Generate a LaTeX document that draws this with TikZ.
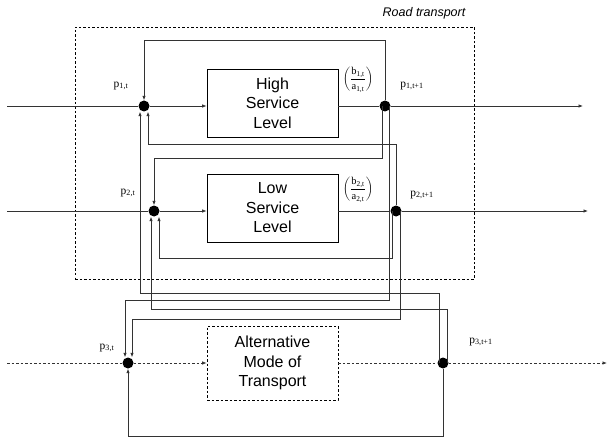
\documentclass[tikz,border=0pt]{standalone}
\usepackage{fontspec}
\setmainfont{Liberation Serif}
\newfontfamily\boxfont{Liberation Sans}
\usetikzlibrary{arrows.meta}
\begin{document}
\begin{tikzpicture}[x=1pt,y=-1pt,
  ln/.style={draw=black!80,line width=0.75pt},
  arr/.style={ln,-{Latex[length=4.5pt,width=3.5pt]}},
  dsh/.style={dash pattern=on 2.5pt off 2pt},
  dot/.style={circle,fill=black,inner sep=0pt,minimum size=11pt},
  blk/.style={draw=black,line width=0.8pt,minimum width=131pt,inner sep=0pt,
    font=\boxfont\fontsize{16}{19.5}\selectfont,align=center},
  plab/.style={font=\fontsize{11.5}{12}\selectfont,inner sep=0pt},
  frc/.style={font=\fontsize{10.5}{12}\selectfont,inner sep=0pt}]
\useasboundingbox (0,0) rectangle (609,438);
% road transport frame
\node[draw=black,line width=0.7pt,dsh,minimum width=399pt,minimum height=252pt,inner sep=0pt] (road) at (274.5,153) {};
\node[font=\boxfont\itshape\fontsize{12.5}{14}\selectfont,inner sep=0pt] (roadlab) at (424,13) {Road transport};
% blocks
\node[blk,minimum height=68pt] (hsl) at (272.5,103) {High\\Service\\Level};
\node[blk,minimum height=68pt] (lsl) at (272.5,208) {Low\\Service\\Level};
\node[blk,dsh,minimum height=74pt] (alt) at (272.5,363) {Alternative\\Mode of\\Transport};
% junctions
\node[dot] (j1) at (144,106) {};
\node[dot] (o1) at (385,106) {};
\node[dot] (j2) at (154,211) {};
\node[dot] (o2) at (396,211) {};
\node[dot] (j3) at (128,363) {};
\node[dot] (o3) at (443,363) {};
\coordinate (in1) at (7,106);
\coordinate (in2) at (7,211);
\coordinate (in3) at (7,363);
\coordinate (out1) at (583,106);
\coordinate (out2) at (588,211);
\coordinate (out3) at (607,363);
% main flows
\draw[ln] (in1) -- (j1);
\draw[arr] (j1) -- (hsl.west |- j1);
\draw[ln] (hsl.east |- o1) -- (o1);
\draw[arr] (o1) -- (out1);
\draw[ln] (in2) -- (j2);
\draw[arr] (j2) -- (lsl.west |- j2);
\draw[ln] (lsl.east |- o2) -- (o2);
\draw[arr] (o2) -- (out2);
\draw[ln,dsh] (in3) -- (j3);
\draw[arr,dsh] (j3) -- (alt.west |- j3);
\draw[ln,dsh] (alt.east |- o3) -- (o3);
\draw[arr,dsh] (o3) -- (out3);
% feedback from high service level
\draw[arr] (o1.north) -- ++(0,-60) -| (j1.north);
\draw[arr] ([xshift=-3pt]o1.center) -- ++(0,52) -| (j2.north);
\draw[arr] ([xshift=4pt]o1.center) -- ++(0,194) -| ([xshift=-3pt]j3.north);
% feedback from low service level
\draw[arr] (o2.north) -- ++(0,-61) -| ([xshift=4pt]j1.south);
\draw[arr] ([xshift=-4pt]o2.center) -- ++(0,47) -| ([xshift=5pt]j2.south);
\draw[arr] ([xshift=4pt]o2.center) -- ++(0,108) -| ([xshift=4pt]j3.north);
% feedback from alternative mode
\draw[arr] ([xshift=-4pt]o3.center) -- ++(0,-70) -| ([xshift=-4pt]j1.south);
\draw[arr] ([xshift=4pt]o3.center) -- ++(0,-54) -| ([xshift=-3pt]j2.south);
\draw[arr] (o3.south) -- ++(0,68) -| (j3.south);
% labels
\node[plab] (p1t) at (121,86) {p\textsubscript{1,t}};
\node[plab] (p1n) at (412,86) {p\textsubscript{1,t+1}};
\node[plab] (p2t) at (128,193) {p\textsubscript{2,t}};
\node[plab] (p2n) at (422,195) {p\textsubscript{2,t+1}};
\node[plab] (p3t) at (107,348) {p\textsubscript{3,t}};
\node[plab] (p3n) at (481,342) {p\textsubscript{3,t+1}};
\node[frc] (f1) at (358,80) {$\displaystyle\left(\frac{\mbox{b\textsubscript{1,t}}}{\mbox{a\textsubscript{1,t}}}\right)$};
\node[frc] (f2) at (358,190) {$\displaystyle\left(\frac{\mbox{b\textsubscript{2,t}}}{\mbox{a\textsubscript{2,t}}}\right)$};
\end{tikzpicture}
\end{document}
